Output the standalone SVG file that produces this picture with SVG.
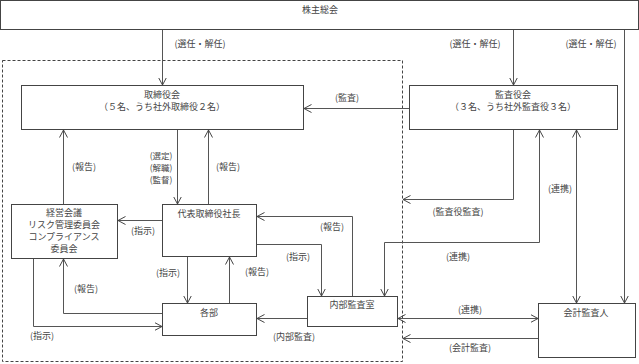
<svg xmlns="http://www.w3.org/2000/svg" width="639" height="364" viewBox="0 0 639 364">
<style>
text{font-family:"Noto Sans CJK JP","Noto Sans",sans-serif;font-size:9px;fill:#444;text-anchor:middle}
.sm{font-size:8.5px}
.box{fill:#fff;stroke:#444;stroke-width:1}
.ln{fill:none;stroke:#555;stroke-width:1}
.dash{fill:none;stroke:#444;stroke-width:1;stroke-dasharray:3,2}
</style>
<defs>
<marker id="ah" viewBox="0 0 8 10" refX="7.5" refY="5" markerWidth="8" markerHeight="10" markerUnits="userSpaceOnUse" orient="auto-start-reverse">
<path d="M0,1 L7.5,5 L0,9" fill="none" stroke="#444" stroke-width="1"/>
</marker>
</defs>
<rect class="dash" x="2.5" y="60.5" width="400" height="301"/>
<g id="shareholders"><rect class="box" x="0.5" y="0.5" width="638" height="29"/><text x="320" y="13">株主総会</text></g>
<g id="board"><rect class="box" x="21.5" y="85.5" width="282" height="44"/><text x="162" y="98">取締役会</text><text x="162" y="110">（５名、うち社外取締役２名）</text></g>
<g id="auditors"><rect class="box" x="409.5" y="85.5" width="208" height="44"/><text x="513" y="98">監査役会</text><text x="513" y="110">（３名、うち社外監査役３名）</text></g>
<g id="committees"><rect class="box" x="11.5" y="204.5" width="106" height="54"/><text x="64" y="216">経営会議</text><text x="64" y="228">リスク管理委員会</text><text x="64" y="240">コンプライアンス</text><text x="64" y="252">委員会</text></g>
<g id="president"><rect class="box" x="162.5" y="204.5" width="94" height="52"/><text x="209" y="217">代表取締役社長</text></g>
<g id="departments"><rect class="box" x="162.5" y="303.5" width="94" height="32"/><text x="209" y="316">各部</text></g>
<g id="internal-audit"><rect class="box" x="307.5" y="296.5" width="90" height="30"/><text x="352" y="308">内部監査室</text></g>
<g id="accounting-auditor"><rect class="box" x="538.5" y="303.5" width="97" height="54"/><text x="586" y="316">会計監査人</text></g>
<g id="connectors">
<path class="ln" d="M162.5,30 V85" marker-end="url(#ah)"/>
<path class="ln" d="M513.5,30 V85" marker-end="url(#ah)"/>
<path class="ln" d="M624.5,30 V303" marker-end="url(#ah)"/>
<path class="ln" d="M409,108.5 H304" marker-end="url(#ah)"/>
<path class="ln" d="M513.5,130 V199.5 H403" marker-end="url(#ah)"/>
<path class="ln" d="M539.5,130 V242.5 H384.5 V296" marker-start="url(#ah)" marker-end="url(#ah)"/>
<path class="ln" d="M576.5,130 V303" marker-start="url(#ah)" marker-end="url(#ah)"/>
<path class="ln" d="M398,318.5 H538" marker-start="url(#ah)" marker-end="url(#ah)"/>
<path class="ln" d="M538,338.5 H403" marker-end="url(#ah)"/>
<path class="ln" d="M63.5,204 V130" marker-end="url(#ah)"/>
<path class="ln" d="M177.5,130 V204" marker-end="url(#ah)"/>
<path class="ln" d="M208.5,204 V130" marker-end="url(#ah)"/>
<path class="ln" d="M162,220.5 H118" marker-end="url(#ah)"/>
<path class="ln" d="M187.5,257 V303" marker-end="url(#ah)"/>
<path class="ln" d="M229.5,303 V257" marker-end="url(#ah)"/>
<path class="ln" d="M33.5,259 V326.5 H162" marker-end="url(#ah)"/>
<path class="ln" d="M162,313.5 H63.5 V259" marker-end="url(#ah)"/>
<path class="ln" d="M307,318.5 H257" marker-end="url(#ah)"/>
<path class="ln" d="M352.5,296 V216.5 H257" marker-end="url(#ah)"/>
<path class="ln" d="M257,244.5 H321.5 V296" marker-end="url(#ah)"/>
</g>
<g id="labels">
<text x="200" y="47">(選任・解任)</text>
<text x="475" y="47">(選任・解任)</text>
<text x="591" y="47">(選任・解任)</text>
<text x="347" y="101">(監査)</text>
<text x="458" y="215">(監査役監査)</text>
<text x="458" y="260">(連携)</text>
<text x="560" y="192">(連携)</text>
<text x="470" y="313">(連携)</text>
<text x="470" y="351">(会計監査)</text>
<text x="84" y="170">(報告)</text>
<text class="sm" x="161" y="158.5">(選定)</text>
<text class="sm" x="161" y="170.5">(解職)</text>
<text class="sm" x="161" y="182.5">(監督)</text>
<text x="228" y="170">(報告)</text>
<text x="143" y="234">(指示)</text>
<text x="168" y="276">(指示)</text>
<text x="257" y="275">(報告)</text>
<text x="42" y="339">(指示)</text>
<text x="86" y="292">(報告)</text>
<text x="294" y="340">(内部監査)</text>
<text x="332" y="230">(報告)</text>
<text x="298" y="260">(指示)</text>
</g>
</svg>
